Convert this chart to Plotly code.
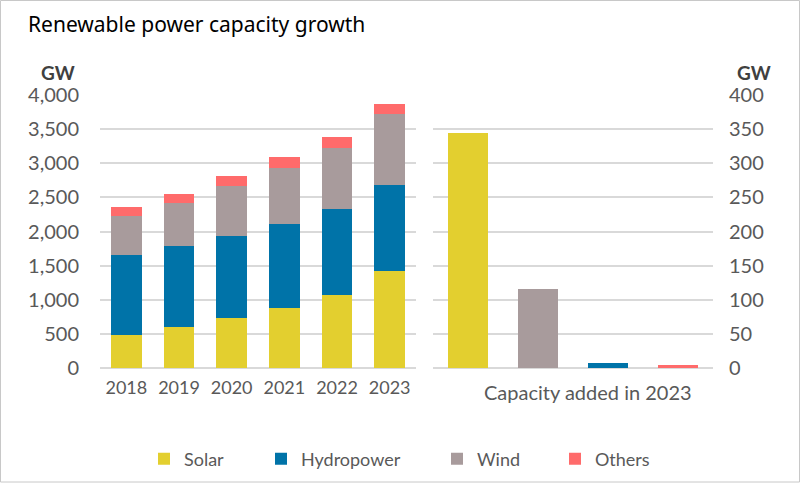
import plotly.graph_objects as go

years = ["2018", "2019", "2020", "2021", "2022", "2023"]
solar = [483, 596, 728, 874, 1070, 1421]
hydro = [1173, 1192, 1206, 1236, 1255, 1260]
wind = [575, 625, 737, 825, 898, 1036]
others = [132, 132, 142, 152, 166, 147]

added_cats = ["Solar", "Wind", "Hydropower", "Others"]
added_vals = [345, 116, 7, 4]

left_ticks = [0, 500, 1000, 1500, 2000, 2500, 3000, 3500, 4000]
right_ticks = [0, 50, 100, 150, 200, 250, 300, 350, 400]

C_SOLAR = "#e3cf2f"
C_HYDRO = "#0073a8"
C_WIND = "#a89b9c"
C_OTHERS = "#ff6b6b"
colors = {"Solar": C_SOLAR, "Hydropower": C_HYDRO, "Wind": C_WIND, "Others": C_OTHERS}

W, H = 800, 483
FONT = "Lato"
TICKC = "#595959"
GRID = "#d9d9d9"

fig = go.Figure()
series = [("Solar", solar, "legend"), ("Hydropower", hydro, "legend2"),
          ("Wind", wind, "legend3"), ("Others", others, "legend4")]
for name, vals, lg in series:
    fig.add_trace(go.Bar(x=years, y=vals, name=name, marker_color=colors[name],
                         marker_line_width=0, xaxis="x", yaxis="y", legend=lg))

fig.add_trace(go.Bar(x=added_cats, y=added_vals, marker_color=[colors[c] for c in added_cats],
                     marker_line_width=0, xaxis="x2", yaxis="y2", showlegend=False))

def px(x):
    return x / W

def py(y):
    return 1 - y / H

xfont = dict(family=FONT, size=18, color=TICKC)
yfont = dict(family=FONT, size=20, color=TICKC)
axis_common = dict(showline=False, ticks="", automargin=False)

fig.update_layout(
    width=W, height=H,
    margin=dict(l=0, r=0, t=0, b=0, autoexpand=False),
    paper_bgcolor="white", plot_bgcolor="white",
    barmode="stack", bargap=0.42,
    font=dict(family=FONT, color=TICKC),
    xaxis=dict(domain=[px(100), px(416)], anchor="y", type="category",
               showgrid=False, ticklabelstandoff=7, tickfont=xfont, **axis_common),
    yaxis=dict(domain=[py(368), py(95)], anchor="x", range=[0, 4000],
               tickvals=left_ticks, tickformat=",d", showgrid=True, gridcolor=GRID,
               gridwidth=1.5, zeroline=True, zerolinecolor=GRID, zerolinewidth=1.5,
               ticklabelstandoff=20, tickfont=yfont, **axis_common),
    xaxis2=dict(domain=[px(433), px(713)], anchor="y2", type="category",
                showgrid=False, showticklabels=False, **axis_common),
    yaxis2=dict(domain=[py(368), py(95)], anchor="x2", side="right", range=[0, 400],
                tickvals=right_ticks, showgrid=True, gridcolor=GRID,
                gridwidth=1.5, zeroline=True, zerolinecolor=GRID, zerolinewidth=1.5,
                ticklabelstandoff=15, tickfont=yfont, **axis_common),
)

legend_x = {"legend": 144, "legend2": 261, "legend3": 437, "legend4": 555}
for lg, xpos in legend_x.items():
    fig.update_layout({lg: dict(orientation="h", x=px(xpos), xanchor="left",
                                y=py(459), yanchor="middle", bgcolor="rgba(0,0,0,0)",
                                font=dict(family=FONT, size=18, color=TICKC),
                                itemwidth=30)})

fig.add_annotation(text="Renewable power capacity growth", xref="paper", yref="paper",
                   x=px(26), y=py(24), xanchor="left", yanchor="middle", showarrow=False,
                   font=dict(family="Noto Sans", size=21, color="#000000"))
fig.add_annotation(text="<b>GW</b>", xref="paper", yref="paper",
                   x=px(58), y=py(72), xanchor="center", yanchor="middle", showarrow=False,
                   font=dict(family=FONT, size=19, color="#404040"))
fig.add_annotation(text="<b>GW</b>", xref="paper", yref="paper",
                   x=px(754), y=py(72), xanchor="center", yanchor="middle", showarrow=False,
                   font=dict(family=FONT, size=19, color="#404040"))
fig.add_annotation(text="Capacity added in 2023", xref="paper", yref="paper",
                   x=px(588), y=py(392), xanchor="center", yanchor="middle", showarrow=False,
                   font=dict(family=FONT, size=20, color=TICKC))

fig.add_shape(type="rect", xref="paper", yref="paper", x0=px(0.5), x1=px(799.5),
              y0=py(482), y1=py(0.5), line=dict(color="#c8c8c8", width=1),
              fillcolor="rgba(0,0,0,0)", layer="above")

fig.write_html("out.html", config={"displayModeBar": False},
               post_script="document.body.style.margin='0';document.body.style.overflow='hidden';")
